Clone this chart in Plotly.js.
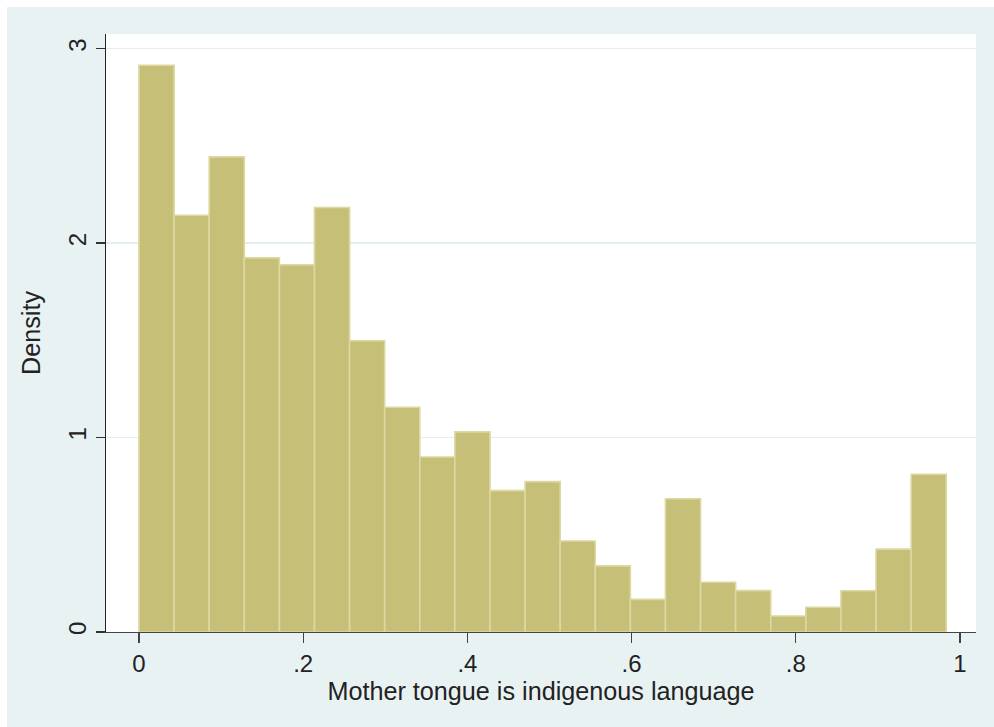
<!DOCTYPE html>
<html>
<head>
<meta charset="utf-8">
<script src="https://cdn.plot.ly/plotly-3.0.1.min.js"></script>
<style>html,body{margin:0;padding:0;background:#fff;}#chart{width:994px;height:727px;}</style>
</head>
<body>
<div id="chart"></div>
<script>
// Histogram density values, one per bin
const densities = [2.914, 2.143, 2.443, 1.924, 1.888, 2.183, 1.498, 1.156, 0.900, 1.029, 0.727, 0.773,
                   0.468, 0.340, 0.168, 0.685, 0.256, 0.213, 0.082, 0.127, 0.212, 0.426, 0.811];
const binStart = 0;
const binWidth = 0.04275;
const xTickVals = [0, 0.2, 0.4, 0.6, 0.8, 1];
const xTickText = ["0", ".2", ".4", ".6", ".8", "1"];
const yTickVals = [0, 1, 2, 3];
const yTickText = ["0", "1", "2", "3"];
const xTitle = "Mother tongue is indigenous language";
const yTitle = "Density";

const centers = densities.map((_, i) => binStart + binWidth * (i + 0.5));
const FONT = "Liberation Sans, Arial, Helvetica, sans-serif";

const trace = {
  type: "bar",
  x: centers,
  y: densities,
  width: densities.map(() => binWidth),
  marker: {color: "#c6bf77", line: {color: "#ddd7a2", width: 1.6}},
  hoverinfo: "skip"
};

const layout = {
  width: 994, height: 727,
  margin: {l: 106, r: 18, t: 34, b: 95, pad: 0},
  paper_bgcolor: "#ffffff",
  plot_bgcolor: "#ffffff",
  showlegend: false,
  bargap: 0,
  font: {family: FONT, color: "#222"},
  shapes: [
    {type: "rect", xref: "paper", yref: "paper", x0: -0.1138, x1: 1.05, y0: -0.2, y1: 1.0452,
     fillcolor: "#e9f2f3", line: {width: 0}, layer: "below"},
    {type: "rect", xref: "paper", yref: "paper", x0: 0, x1: 1, y0: 0, y1: 1,
     fillcolor: "#ffffff", line: {width: 0}, layer: "below"}
  ],
  xaxis: {
    range: [-0.0402, 1.0195],
    tickmode: "array", tickvals: xTickVals, ticktext: xTickText,
    ticks: "outside", ticklen: 10, tickwidth: 1.3, tickcolor: "#444",
    showline: true, linecolor: "#444", linewidth: 1.3,
    showgrid: false, zeroline: false,
    tickfont: {size: 24, color: "#222", family: FONT},
    title: {text: xTitle, font: {size: 25.2, color: "#222", family: FONT}, standoff: 0},
    automargin: false, fixedrange: true
  },
  yaxis: {
    range: [0, 3.075],
    tickmode: "array", tickvals: yTickVals, ticktext: yTickText,
    tickangle: -90,
    ticks: "outside", ticklen: 9, tickwidth: 1.3, tickcolor: "#333",
    showline: true, linecolor: "#222", linewidth: 1.3,
    showgrid: true, gridcolor: "#e3eef0", gridwidth: 1.6,
    zeroline: false,
    tickfont: {size: 24, color: "#222", family: FONT},
    title: {text: yTitle, font: {size: 25.2, color: "#222", family: FONT}, standoff: 16},
    automargin: false, fixedrange: true
  }
};

Plotly.newPlot("chart", [trace], layout, {displayModeBar: false, staticPlot: true});
</script>
</body>
</html>
